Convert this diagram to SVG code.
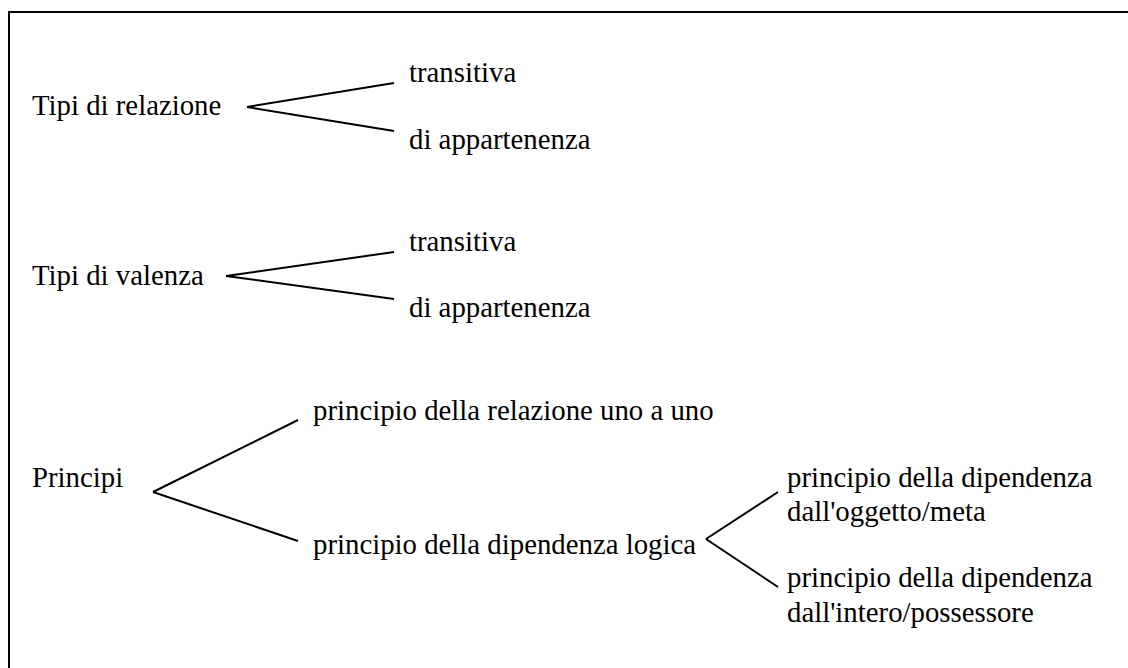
<svg xmlns="http://www.w3.org/2000/svg" width="1128" height="668" viewBox="0 0 1128 668">
<style>
text{font-family:"Liberation Serif","Times New Roman",serif;font-size:28.8px;fill:#000}
.c line{stroke:#000;stroke-width:2;stroke-linecap:butt}
</style>
<rect x="0" y="0" width="1128" height="668" fill="#fff"/>
<rect id="frame" x="9" y="12" width="1140" height="680" fill="none" stroke="#000" stroke-width="2"/>
<g id="n-relazione"><text x="32" y="115">Tipi di relazione</text></g>
<g id="n-rel-transitiva"><text x="409" y="82">transitiva</text></g>
<g id="n-rel-appartenenza"><text x="409" y="149">di appartenenza</text></g>
<g id="n-valenza"><text x="32" y="285">Tipi di valenza</text></g>
<g id="n-val-transitiva"><text x="409" y="251">transitiva</text></g>
<g id="n-val-appartenenza"><text x="409" y="317">di appartenenza</text></g>
<g id="n-principi"><text x="32" y="487">Principi</text></g>
<g id="n-uno"><text x="313" y="420">principio della relazione uno a uno</text></g>
<g id="n-logica"><text x="313" y="554">principio della dipendenza logica</text></g>
<g id="n-oggetto"><text x="787" y="487">principio della dipendenza</text><text x="787" y="521">dall'oggetto/meta</text></g>
<g id="n-intero"><text x="787" y="587">principio della dipendenza</text><text x="787" y="622">dall'intero/possessore</text></g>
<g id="connectors" class="c">
<line x1="247" y1="107" x2="394" y2="83"/>
<line x1="247" y1="107" x2="394" y2="131"/>
<line x1="226" y1="276" x2="394" y2="252"/>
<line x1="226" y1="276" x2="394" y2="299"/>
<line x1="153" y1="492" x2="298" y2="420"/>
<line x1="153" y1="492" x2="298" y2="541"/>
<line x1="706" y1="539" x2="778" y2="492"/>
<line x1="706" y1="539" x2="778" y2="587"/>
</g>
</svg>
